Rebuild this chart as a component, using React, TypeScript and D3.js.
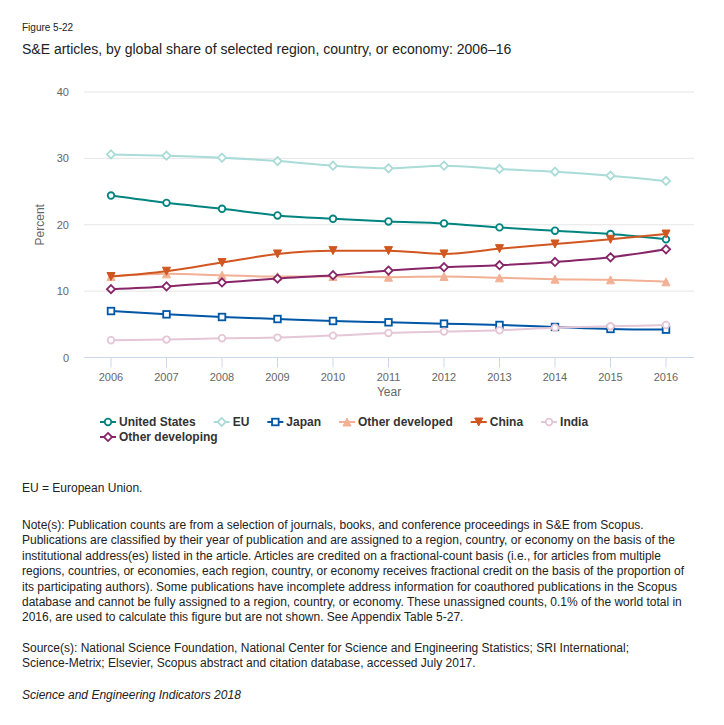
import React from "react";
import * as d3 from "d3";

const years = [2006, 2007, 2008, 2009, 2010, 2011, 2012, 2013, 2014, 2015, 2016];
const unitedStates = [24.4, 23.3, 22.4, 21.4, 20.9, 20.5, 20.2, 19.6, 19.1, 18.6, 17.8];
const eu = [30.6, 30.4, 30.1, 29.6, 28.9, 28.5, 28.9, 28.4, 28.0, 27.4, 26.6];
const japan = [7.0, 6.5, 6.1, 5.8, 5.5, 5.3, 5.1, 4.9, 4.6, 4.3, 4.2];
const otherDeveloped = [12.2, 12.6, 12.4, 12.2, 12.2, 12.1, 12.2, 12.0, 11.8, 11.7, 11.4];
const china = [12.2, 13.0, 14.3, 15.6, 16.1, 16.1, 15.6, 16.4, 17.1, 17.8, 18.6];
const india = [2.6, 2.7, 2.9, 3.0, 3.3, 3.7, 3.9, 4.1, 4.5, 4.7, 4.9];
const otherDeveloping = [10.3, 10.7, 11.3, 11.9, 12.4, 13.1, 13.6, 13.9, 14.4, 15.1, 16.3];

const seriesNames = ["United States", "EU", "Japan", "Other developed", "China", "India", "Other developing"];
const seriesValues = [unitedStates, eu, japan, otherDeveloped, china, india, otherDeveloping];
const seriesColors = ["#00847f", "#a9dcd8", "#0057a6", "#f2b094", "#d1561f", "#e4c6d6", "#882468"];
const seriesSymbols = ["circle", "diamond", "square", "triangle", "triangle-down", "circle", "diamond"];

const yTicks = [0, 10, 20, 30, 40];

const figureLabel = "Figure 5-22";
const titleText = "S&E articles, by global share of selected region, country, or economy: 2006–16";
const euNote = "EU = European Union.";
const noteLines = [
  "Note(s): Publication counts are from a selection of journals, books, and conference proceedings in S&E from Scopus.",
  "Publications are classified by their year of publication and are assigned to a region, country, or economy on the basis of the",
  "institutional address(es) listed in the article. Articles are credited on a fractional-count basis (i.e., for articles from multiple",
  "regions, countries, or economies, each region, country, or economy receives fractional credit on the basis of the proportion of",
  "its participating authors). Some publications have incomplete address information for coauthored publications in the Scopus",
  "database and cannot be fully assigned to a region, country, or economy. These unassigned counts, 0.1% of the world total in",
  "2016, are used to calculate this figure but are not shown. See Appendix Table 5-27.",
];
const sourceLines = [
  "Source(s): National Science Foundation, National Center for Science and Engineering Statistics; SRI International;",
  "Science-Metrix; Elsevier, Scopus abstract and citation database, accessed July 2017.",
];
const creditText = "Science and Engineering Indicators 2018";

const FONT = "'Liberation Sans', Arial, Helvetica, sans-serif";

function Marker({ type, x, y, color }: { type: string; x: number; y: number; color: string }) {
  const r = 3.3;
  const common = { fill: "#fff", stroke: color, strokeWidth: 1.8 };
  if (type === "circle") return <circle cx={x} cy={y} r={r} {...common} />;
  if (type === "square") return <rect x={x - r} y={y - r} width={2 * r} height={2 * r} {...common} />;
  if (type === "diamond") {
    const d = r + 0.8;
    return <path d={`M${x},${y - d}L${x + d},${y}L${x},${y + d}L${x - d},${y}Z`} {...common} />;
  }
  if (type === "triangle") {
    const d = r + 0.7;
    return <path d={`M${x},${y - d}L${x + d},${y + d}L${x - d},${y + d}Z`} fill={color} stroke={color} strokeWidth={1} />;
  }
  const d = r + 0.7;
  return <path d={`M${x - d},${y - d}L${x + d},${y - d}L${x},${y + d}Z`} fill={color} stroke={color} strokeWidth={1} />;
}

function measure(text: string, font: string) {
  const c = document.createElement("canvas").getContext("2d");
  if (!c) return text.length * 6.5;
  c.font = font;
  return c.measureText(text).width;
}

export default function App() {
  const width = 724;
  const height = 725;
  const plotLeft = 84;
  const plotRight = 694;
  const x = d3.scaleLinear().domain([2006, 2016]).range([111, 666]);
  const y = d3.scaleLinear().domain([0, 40]).range([357.5, 92]);

  const line = d3
    .line<number>()
    .x((_, i) => x(years[i]))
    .y((v) => y(v))
    .curve(d3.curveMonotoneX);

  // legend layout
  const legendFont = `bold 12px ${FONT}`;
  const symbolW = 16;
  const symbolPad = 3;
  const itemGap = 18;
  const legendStart = 100;
  const legendMaxX = 640;
  const legendItems: { name: string; color: string; sym: string; x: number; row: number }[] = [];
  let cx = legendStart;
  let row = 0;
  seriesNames.forEach((name, i) => {
    const w = symbolW + symbolPad + measure(name, legendFont);
    if (cx + w > legendMaxX && cx > legendStart) {
      row += 1;
      cx = legendStart;
    }
    legendItems.push({ name, color: seriesColors[i], sym: seriesSymbols[i], x: cx, row });
    cx += w + itemGap;
  });

  return (
    <svg width={width} height={height} style={{ display: "block", position: "absolute", left: 0, top: 0 }} fontFamily={FONT}>
      <rect width={width} height={height} fill="#fff" />
      <text x={22} y={31} fontSize={10} fill="#222">{figureLabel}</text>
      <text x={22} y={54} fontSize={14} fill="#222">{titleText}</text>

      {yTicks.filter((t) => t > 0).map((t) => (
        <line key={t} x1={plotLeft} x2={plotRight} y1={y(t)} y2={y(t)} stroke="#e6e6e6" strokeWidth={1} />
      ))}
      <line x1={plotLeft} x2={plotRight} y1={y(0)} y2={y(0)} stroke="#ccd6eb" strokeWidth={1} />
      {years.map((yr) => (
        <line key={yr} x1={x(yr)} x2={x(yr)} y1={y(0)} y2={y(0) + 10} stroke="#ccd6eb" strokeWidth={1} />
      ))}
      {yTicks.map((t) => (
        <text key={t} x={69} y={y(t) + 4} fontSize={11} fill="#666" textAnchor="end">{t}</text>
      ))}
      {years.map((yr) => (
        <text key={yr} x={x(yr)} y={381} fontSize={11} fill="#666" textAnchor="middle">{yr}</text>
      ))}
      <text x={(plotLeft + plotRight) / 2} y={396} fontSize={12} fill="#666" textAnchor="middle">Year</text>
      <text transform={`translate(44,${(y(0) + y(40)) / 2}) rotate(-90)`} fontSize={12} fill="#666" textAnchor="middle">Percent</text>

      {seriesValues.map((vals, i) => (
        <g key={seriesNames[i]}>
          <path d={line(vals) || ""} fill="none" stroke={seriesColors[i]} strokeWidth={2} />
          {vals.map((v, j) => (
            <Marker key={j} type={seriesSymbols[i]} x={x(years[j])} y={y(v)} color={seriesColors[i]} />
          ))}
        </g>
      ))}

      {legendItems.map((it) => {
        const ly = 422 + it.row * 15;
        return (
          <g key={it.name}>
            <line x1={it.x} x2={it.x + symbolW} y1={ly} y2={ly} stroke={it.color} strokeWidth={2} />
            <Marker type={it.sym} x={it.x + symbolW / 2} y={ly} color={it.color} />
            <text x={it.x + symbolW + symbolPad} y={ly + 4} fontSize={12} fontWeight="bold" fill="#333">{it.name}</text>
          </g>
        );
      })}

      <g fontSize={12} fill="#222">
        <text x={22} y={492}>{euNote}</text>
        {noteLines.map((l, i) => (
          <text key={i} x={22} y={529 + i * 15.4}>{l}</text>
        ))}
        {sourceLines.map((l, i) => (
          <text key={i} x={22} y={652 + i * 15.4}>{l}</text>
        ))}
        <text x={22} y={698.5} fontStyle="italic">{creditText}</text>
      </g>
    </svg>
  );
}
